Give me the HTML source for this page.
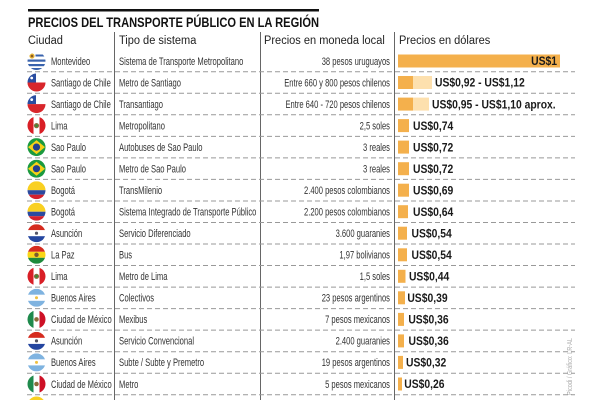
<!DOCTYPE html>
<html><head><meta charset="utf-8">
<style>
html,body{margin:0;padding:0;background:#fff;}
svg{display:block;}
text{font-family:"Liberation Sans",sans-serif;}
</style></head>
<body>
<svg width="600" height="400" viewBox="0 0 600 400" xmlns="http://www.w3.org/2000/svg">
<defs>
  <clipPath id="c"><circle cx="0" cy="0" r="9"/></clipPath>
  <g id="uy"><g clip-path="url(#c)">
    <rect x="-9" y="-9" width="18" height="18" fill="#fff"/>
    <rect x="-1" y="-6.5" width="10" height="2" fill="#3a63ad"/>
    <rect x="-9" y="-1.5" width="18" height="2.2" fill="#3a63ad"/>
    <rect x="-9" y="3" width="18" height="2.2" fill="#3a63ad"/>
    <rect x="-9" y="7" width="18" height="2.2" fill="#3a63ad"/>
    <circle cx="-4.5" cy="-5" r="2.6" fill="#e7b53a"/>
    <circle cx="-4.5" cy="-5" r="1.3" fill="#8a5a20"/>
  </g></g>
  <g id="cl"><g clip-path="url(#c)">
    <rect x="-9" y="-9" width="18" height="9" fill="#fff"/>
    <rect x="-9" y="-9" width="8.5" height="9" fill="#2a4da0"/>
    <rect x="-9" y="0" width="18" height="9" fill="#d8262b"/>
    <circle cx="-4.8" cy="-4.5" r="1.4" fill="#fff"/>
  </g></g>
  <g id="pe"><g clip-path="url(#c)">
    <rect x="-9" y="-9" width="18" height="18" fill="#fff"/>
    <rect x="-9" y="-9" width="6" height="18" fill="#d91f26"/>
    <rect x="3" y="-9" width="6" height="18" fill="#d91f26"/>
    <circle cx="0" cy="0" r="2.6" fill="#8c6b3a"/>
    <circle cx="0" cy="0" r="1.4" fill="#3c8a3c"/>
  </g></g>
  <g id="br"><g clip-path="url(#c)">
    <rect x="-9" y="-9" width="18" height="18" fill="#1b9a3f"/>
    <polygon points="0,-7 8.5,0 0,7 -8.5,0" fill="#f7d117"/>
    <circle cx="0" cy="0" r="3.6" fill="#233f8f"/>
  </g></g>
  <g id="co"><g clip-path="url(#c)">
    <rect x="-9" y="-9" width="18" height="9" fill="#f9d021"/>
    <rect x="-9" y="0" width="18" height="4.5" fill="#2b4aa0"/>
    <rect x="-9" y="4.5" width="18" height="4.5" fill="#d4212d"/>
  </g></g>
  <g id="py"><g clip-path="url(#c)">
    <rect x="-9" y="-9" width="18" height="6" fill="#d52b1e"/>
    <rect x="-9" y="-3" width="18" height="6" fill="#fff"/>
    <rect x="-9" y="3" width="18" height="6" fill="#2446a0"/>
    <circle cx="0" cy="0" r="1.6" fill="#556" />
  </g></g>
  <g id="bo"><g clip-path="url(#c)">
    <rect x="-9" y="-9" width="18" height="6" fill="#d52b1e"/>
    <rect x="-9" y="-3" width="18" height="6" fill="#f9d616"/>
    <rect x="-9" y="3" width="18" height="6" fill="#1e8a3c"/>
    <circle cx="0" cy="0" r="2.2" fill="#7a5a30"/>
  </g></g>
  <g id="ar"><g clip-path="url(#c)">
    <rect x="-9" y="-9" width="18" height="6" fill="#7fb3e0"/>
    <rect x="-9" y="-3" width="18" height="6" fill="#fff"/>
    <rect x="-9" y="3" width="18" height="6" fill="#7fb3e0"/>
    <circle cx="0" cy="0" r="1.5" fill="#f0c040"/>
  </g></g>
  <g id="mx"><g clip-path="url(#c)">
    <rect x="-9" y="-9" width="18" height="18" fill="#fff"/>
    <rect x="-9" y="-9" width="6" height="18" fill="#1f8a4c"/>
    <rect x="3" y="-9" width="6" height="18" fill="#ce1126"/>
    <circle cx="0" cy="0" r="2.3" fill="#8c6b3a"/>
  </g></g>
</defs>

<!-- top rule and title -->
<rect x="28" y="9" width="291" height="2.5" fill="#111"/>
<text x="28" y="27" font-size="14" font-weight="bold" fill="#111" textLength="291" lengthAdjust="spacingAndGlyphs">PRECIOS DEL TRANSPORTE PÚBLICO EN LA REGIÓN</text>

<!-- headers -->
<g transform="scale(0.92,1)" font-size="12" fill="#222">
  <text x="30.4" y="44">Ciudad</text>
  <text x="129.3" y="44">Tipo de sistema</text>
  <text x="287" y="44">Precios en moneda local</text>
  <text x="433.7" y="44">Precios en dólares</text>
</g>

<!-- vertical lines -->
<g stroke="#666" stroke-width="1">
  <line x1="114.5" y1="32" x2="114.5" y2="400"/>
  <line x1="260.5" y1="32" x2="260.5" y2="400"/>
  <line x1="394.5" y1="32" x2="394.5" y2="400"/>
</g>

<!-- dashed separators -->
<g stroke="#999" stroke-width="1" stroke-dasharray="5,3">
  <line x1="27" y1="71.8" x2="575" y2="71.8"/>
  <line x1="27" y1="93.3" x2="575" y2="93.3"/>
  <line x1="27" y1="114.8" x2="575" y2="114.8"/>
  <line x1="27" y1="136.4" x2="575" y2="136.4"/>
  <line x1="27" y1="157.9" x2="575" y2="157.9"/>
  <line x1="27" y1="179.4" x2="575" y2="179.4"/>
  <line x1="27" y1="201" x2="575" y2="201"/>
  <line x1="27" y1="222.5" x2="575" y2="222.5"/>
  <line x1="27" y1="244" x2="575" y2="244"/>
  <line x1="27" y1="265.5" x2="575" y2="265.5"/>
  <line x1="27" y1="287.1" x2="575" y2="287.1"/>
  <line x1="27" y1="308.6" x2="575" y2="308.6"/>
  <line x1="27" y1="330.1" x2="575" y2="330.1"/>
  <line x1="27" y1="351.7" x2="575" y2="351.7"/>
  <line x1="27" y1="373.2" x2="575" y2="373.2"/>
  <line x1="27" y1="394.7" x2="575" y2="394.7"/>
</g>

<!-- flags -->
<use href="#uy" x="36.5" y="61"/>
<use href="#cl" x="36.5" y="82.5"/>
<use href="#cl" x="36.5" y="104.1"/>
<use href="#pe" x="36.5" y="125.6"/>
<use href="#br" x="36.5" y="147.1"/>
<use href="#br" x="36.5" y="168.7"/>
<use href="#co" x="36.5" y="190.2"/>
<use href="#co" x="36.5" y="211.7"/>
<use href="#py" x="36.5" y="233.2"/>
<use href="#bo" x="36.5" y="254.8"/>
<use href="#pe" x="36.5" y="276.3"/>
<use href="#ar" x="36.5" y="297.8"/>
<use href="#mx" x="36.5" y="319.4"/>
<use href="#py" x="36.5" y="340.9"/>
<use href="#ar" x="36.5" y="362.4"/>
<use href="#mx" x="36.5" y="384"/>
<use href="#co" x="36.5" y="405.5"/>

<!-- body text -->
<g transform="scale(0.69,1)" font-size="11" fill="#333">
  <text x="73.9" y="64.8">Montevideo</text>
  <text x="73.9" y="86.3">Santiago de Chile</text>
  <text x="73.9" y="107.9">Santiago de Chile</text>
  <text x="73.9" y="129.4">Lima</text>
  <text x="73.9" y="150.9">Sao Paulo</text>
  <text x="73.9" y="172.5">Sao Paulo</text>
  <text x="73.9" y="194">Bogotá</text>
  <text x="73.9" y="215.5">Bogotá</text>
  <text x="73.9" y="237">Asunción</text>
  <text x="73.9" y="258.6">La Paz</text>
  <text x="73.9" y="280.1">Lima</text>
  <text x="73.9" y="301.6">Buenos Aires</text>
  <text x="73.9" y="323.2">Ciudad de México</text>
  <text x="73.9" y="344.7">Asunción</text>
  <text x="73.9" y="366.2">Buenos Aires</text>
  <text x="73.9" y="387.8">Ciudad de México</text>

  <text x="172.5" y="64.8">Sistema de Transporte Metropolitano</text>
  <text x="172.5" y="86.3">Metro de Santiago</text>
  <text x="172.5" y="107.9">Transantiago</text>
  <text x="172.5" y="129.4">Metropolitano</text>
  <text x="172.5" y="150.9">Autobuses de Sao Paulo</text>
  <text x="172.5" y="172.5">Metro de Sao Paulo</text>
  <text x="172.5" y="194">TransMilenio</text>
  <text x="172.5" y="215.5">Sistema Integrado de Transporte Público</text>
  <text x="172.5" y="237">Servicio Diferenciado</text>
  <text x="172.5" y="258.6">Bus</text>
  <text x="172.5" y="280.1">Metro de Lima</text>
  <text x="172.5" y="301.6">Colectivos</text>
  <text x="172.5" y="323.2">Mexibus</text>
  <text x="172.5" y="344.7">Servicio Convencional</text>
  <text x="172.5" y="366.2">Subte / Subte y Premetro</text>
  <text x="172.5" y="387.8">Metro</text>

  <g text-anchor="end">
  <text x="565.2" y="64.8">38 pesos uruguayos</text>
  <text x="565.2" y="86.3">Entre 660 y 800 pesos chilenos</text>
  <text x="565.2" y="107.9">Entre 640 - 720 pesos chilenos</text>
  <text x="565.2" y="129.4">2,5 soles</text>
  <text x="565.2" y="150.9">3 reales</text>
  <text x="565.2" y="172.5">3 reales</text>
  <text x="565.2" y="194">2.400 pesos colombianos</text>
  <text x="565.2" y="215.5">2.200 pesos colombianos</text>
  <text x="565.2" y="237">3.600 guaranies</text>
  <text x="565.2" y="258.6">1,97 bolivianos</text>
  <text x="565.2" y="280.1">1,5 soles</text>
  <text x="565.2" y="301.6">23 pesos argentinos</text>
  <text x="565.2" y="323.2">7 pesos mexicanos</text>
  <text x="565.2" y="344.7">2.400 guaranies</text>
  <text x="565.2" y="366.2">19 pesos argentinos</text>
  <text x="565.2" y="387.8">5 pesos mexicanos</text>
  </g>
</g>

<!-- bars -->
<g fill="#f4b04c">
  <rect x="398" y="54.5" width="162" height="13"/>
  <rect x="413" y="76" width="19" height="13" fill="#fde0ae"/>
  <rect x="398" y="76" width="15" height="13"/>
  <rect x="413" y="97.6" width="16" height="13" fill="#fde0ae"/>
  <rect x="398" y="97.6" width="15" height="13"/>
  <rect x="398" y="119.1" width="11" height="13"/>
  <rect x="398" y="140.6" width="11" height="13"/>
  <rect x="398" y="162.2" width="11" height="13"/>
  <rect x="398" y="183.7" width="11" height="13"/>
  <rect x="398" y="205.2" width="10" height="13"/>
  <rect x="398" y="226.7" width="9" height="13"/>
  <rect x="398" y="248.3" width="9" height="13"/>
  <rect x="398" y="269.8" width="7.5" height="13"/>
  <rect x="398" y="291.3" width="7" height="13"/>
  <rect x="398" y="312.9" width="6" height="13"/>
  <rect x="398" y="334.4" width="6" height="13"/>
  <rect x="398" y="355.9" width="5" height="13"/>
  <rect x="398" y="377.5" width="4" height="13"/>
</g>

<!-- bar labels -->
<g transform="scale(0.9,1)" font-size="11.5" font-weight="bold" fill="#1a1a1a">
  <text x="618.9" y="65.2" text-anchor="end">US$1</text>
  <text x="483.3" y="86.7">US$0,92 - US$1,12</text>
  <text x="480" y="108.3">US$0,95 - US$1,10 aprox.</text>
  <text x="458.9" y="129.8">US$0,74</text>
  <text x="458.9" y="151.3">US$0,72</text>
  <text x="458.9" y="172.9">US$0,72</text>
  <text x="458.9" y="194.4">US$0,69</text>
  <text x="458.9" y="215.9">US$0,64</text>
  <text x="457.2" y="237.4">US$0,54</text>
  <text x="457.2" y="259">US$0,54</text>
  <text x="454.4" y="280.5">US$0,44</text>
  <text x="452.6" y="302">US$0,39</text>
  <text x="453.7" y="323.6">US$0,36</text>
  <text x="453.9" y="345.1">US$0,36</text>
  <text x="451.1" y="366.6">US$0,32</text>
  <text x="449.2" y="388.2">US$0,26</text>
</g>

<!-- source -->
<text transform="translate(572,395) rotate(-90)" font-size="7.5" fill="#aaa" textLength="57" lengthAdjust="spacingAndGlyphs">Picodi / Gráfico: LR-AL</text>
</svg>
</body></html>
